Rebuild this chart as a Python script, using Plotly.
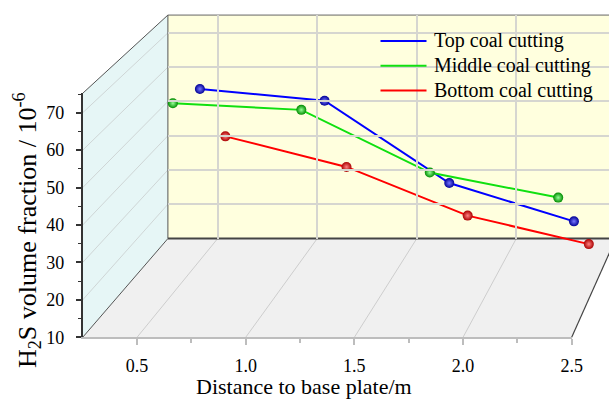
import plotly.graph_objects as go

# ---------------- data ----------------
distance = [0.6, 1.2, 1.8, 2.4]
top_cut = [65.0, 61.7, 38.7, 28.0]
middle_cut = [68.7, 66.9, 49.9, 43.1]
bottom_cut = [43.8, 35.0, 21.0, 12.8]
series_names = ["Top coal cutting", "Middle coal cutting", "Bottom coal cutting"]
series_depth = [2, 1, 3]          # position of each series along the depth axis (0.5-3.5)
x_ticks = [0.5, 1.0, 1.5, 2.0, 2.5]
x_ticktext = ["0.5", "1.0", "1.5", "2.0", "2.5"]
z_ticks = [10, 20, 30, 40, 50, 60, 70]

# ---------------- geometry (layout only) ----------------
W, H = 609, 401
X_LO, X_HI = 0.25, 2.5
Z_LO, Z_HI = 10, 75.2
D_LO, D_HI = 0.5, 3.5
F_L, F_R, F_B, F_T = 82.7, 571.7, 337.3, 93.3   # front plane box in px
VP = (1097.0, -838.0)                            # vanishing point (px)
BACK_SCALE = 0.916
FONT = "Liberation Serif"


def depth_scale(d):
    t = (d - D_LO) / (D_HI - D_LO)
    k = 1 / BACK_SCALE - 1
    return 1 / (1 + k * t)


def proj(px, py, s):
    return VP[0] + s * (px - VP[0]), VP[1] + s * (py - VP[1])


def plane(d):
    s = depth_scale(d)
    left, bottom = proj(F_L, F_B, s)
    right, top = proj(F_R, F_T, s)
    hi = X_HI
    if right > W:
        hi = X_LO + (W - left) / (right - left) * (X_HI - X_LO)
        right = W
    return [left / W, right / W], [1 - bottom / H, 1 - top / H], [X_LO, hi]


def P(px, py):
    return f"{px / W:.5f},{1 - py / H:.5f}"


def fx(x):
    return F_L + (x - X_LO) / (X_HI - X_LO) * (F_R - F_L)


def fz(z):
    return F_B - (z - Z_LO) / (Z_HI - Z_LO) * (F_B - F_T)


fig = go.Figure()

colors = ["#0000FF", "#10E010", "#FF0000"]
edge_cols = ["rgb(0,0,150)", "rgb(0,140,0)", "rgb(170,0,0)"]
center_cols = ["rgb(120,120,255)", "rgb(150,255,150)", "rgb(255,130,130)"]
values = [top_cut, middle_cut, bottom_cut]

# front plane axes (ticks / labels)
fig.add_trace(go.Scatter(x=[None], y=[None], xaxis="x", yaxis="y", showlegend=False))

# axes for each series plane
axis_ids = {}
layout_axes = {}
order = sorted(range(3), key=lambda i: -series_depth[i])   # back to front
for i in range(3):
    idx = i + 2
    dx, dy, rx = plane(series_depth[i])
    layout_axes[f"xaxis{idx}"] = dict(domain=dx, range=rx, visible=False, anchor=f"y{idx}",
                                      automargin=False)
    layout_axes[f"yaxis{idx}"] = dict(domain=dy, range=[Z_LO, Z_HI], visible=False,
                                      anchor=f"x{idx}", automargin=False)
    axis_ids[i] = (f"x{idx}", f"y{idx}")

# back wall axes (gridlines)
bdx, bdy, brx = plane(D_HI)
layout_axes["xaxis5"] = dict(domain=bdx, range=brx, anchor="y5", showgrid=True,
                             gridcolor="#D6D6D0", gridwidth=1.5, tickvals=x_ticks[:-1],
                             showticklabels=False, ticks="", showline=False, zeroline=False,
                             automargin=False)
layout_axes["yaxis5"] = dict(domain=bdy, range=[Z_LO, Z_HI], anchor="x5", showgrid=True,
                             gridcolor="#D6D6D0", gridwidth=1.5, tickvals=z_ticks[1:],
                             showticklabels=False, ticks="", showline=False, zeroline=False,
                             automargin=False)
fig.add_trace(go.Scatter(x=[None], y=[None], xaxis="x5", yaxis="y5", showlegend=False))

# lines and markers, back to front
for i in order:
    xa, ya = axis_ids[i]
    fig.add_trace(go.Scatter(x=distance, y=values[i], xaxis=xa, yaxis=ya, mode="lines",
                             line=dict(color=colors[i], width=2), name=series_names[i],
                             showlegend=False, cliponaxis=False))
    fig.add_trace(go.Scatter(x=distance, y=values[i], xaxis=xa, yaxis=ya, mode="markers",
                             marker=dict(size=10, color=edge_cols[i],
                                         gradient=dict(type="radial", color=center_cols[i])),
                             showlegend=False, cliponaxis=False, hoverinfo="skip"))

# ---------------- walls ----------------
sb = BACK_SCALE
FLb, FLt, FRb = (F_L, F_B), (F_L, F_T), (F_R, F_B)
BLb = proj(F_L, F_B, sb)
BLt = proj(F_L, F_T, sb)
BRb = proj(F_R, F_B, sb)
BRt = proj(F_R, F_T, sb)

shapes = []


def poly(pts, fill, lw=0, lc="rgba(0,0,0,0)"):
    path = "M" + " L".join(P(*p) for p in pts) + " Z"
    shapes.append(dict(type="path", path=path, xref="paper", yref="paper",
                       fillcolor=fill, line=dict(width=lw, color=lc), layer="below"))


def seg(a, b, color, w, layer="below"):
    shapes.append(dict(type="line", xref="paper", yref="paper",
                       x0=a[0] / W, y0=1 - a[1] / H, x1=b[0] / W, y1=1 - b[1] / H,
                       line=dict(color=color, width=w), layer=layer))


poly([BLb, BRb, BRt, BLt], "rgb(255,255,222)")
poly([FLb, FRb, BRb, BLb], "rgb(240,240,240)")
poly([FLb, BLb, BLt, FLt], "rgb(230,246,246)")

# floor grid (depth lines at x ticks)
for x in x_ticks[:-1]:
    seg(proj(fx(x), F_B, 1.0), proj(fx(x), F_B, sb), "#CDCDCD", 1)
# left wall grid (depth lines at z ticks)
for z in z_ticks[1:]:
    seg(proj(F_L, fz(z), 1.0), proj(F_L, fz(z), sb), "#CFD6D6", 1)

# edges
seg(FLt, BLt, "#555555", 1)
seg(BLt, BRt, "#666666", 1)
seg(BLt, BLb, "#555555", 1)
seg(FLb, BLb, "#555555", 1)
seg(BLb, BRb, "#444444", 2)
seg(FRb, BRb, "#444444", 1.2)

# ---------------- legend (drawn in the back-wall area) ----------------
annotations = []
LEG_X0, LEG_X1, LEG_TXT, LEG_Y0, LEG_DY = 380.5, 426.5, 431.5, 41.0, 24.7
for i in range(3):
    yy = LEG_Y0 + i * LEG_DY
    seg((LEG_X0, yy), (LEG_X1, yy), colors[i], 2, layer="above")
    annotations.append(dict(text=series_names[i], x=LEG_TXT / W, y=1 - yy / H,
                            xref="paper", yref="paper", showarrow=False,
                            xanchor="left", yanchor="middle",
                            font=dict(size=20, family=FONT, color="black")))

annotations += [
    dict(text="Distance to base plate/m", x=304 / W, y=0.0, xref="paper", yref="paper",
         showarrow=False, xanchor="center", yanchor="bottom", font=dict(size=22, family=FONT)),
    dict(text="H<sub>2</sub>S volume fraction / 10<sup>-6</sup>", x=27 / W, y=1 - 230 / H,
         xref="paper", yref="paper", textangle=-90, showarrow=False,
         xanchor="center", yanchor="middle", font=dict(size=26, family=FONT)),
]

fig.update_layout(
    width=W, height=H, margin=dict(l=0, r=0, t=0, b=0, autoexpand=False),
    paper_bgcolor="white", plot_bgcolor="rgba(0,0,0,0)",
    font=dict(family=FONT, color="black"),
    showlegend=False,
    shapes=shapes,
    annotations=annotations,
    xaxis=dict(domain=[F_L / W, F_R / W], range=[X_LO, X_HI], anchor="y", automargin=False,
               showline=True, linecolor="#BDBDBD", linewidth=2, showgrid=False, zeroline=False,
               ticks="outside", ticklen=6, tickwidth=2, tickcolor="#BDBDBD",
               tickvals=x_ticks, ticktext=x_ticktext, tickfont=dict(size=18, family=FONT),
               ticklabelstandoff=5,
               minor=dict(tickvals=[0.75, 1.25, 1.75, 2.25], ticks="outside", ticklen=4,
                          tickwidth=2, tickcolor="#BDBDBD")),
    yaxis=dict(domain=[1 - F_B / H, 1 - F_T / H], range=[Z_LO, Z_HI], anchor="x", automargin=False,
               showline=True, linecolor="#333333", linewidth=1.5, showgrid=False, zeroline=False,
               ticks="outside", ticklen=5, tickwidth=1.5, tickcolor="#333333",
               tickvals=z_ticks, tickfont=dict(size=18, family=FONT), ticklabelstandoff=8,
               minor=dict(tickvals=[15, 25, 35, 45, 55, 65, 75], ticks="outside", ticklen=3,
                          tickwidth=1.2, tickcolor="#333333")),
    **layout_axes,
)

fig.write_html("out.html")
